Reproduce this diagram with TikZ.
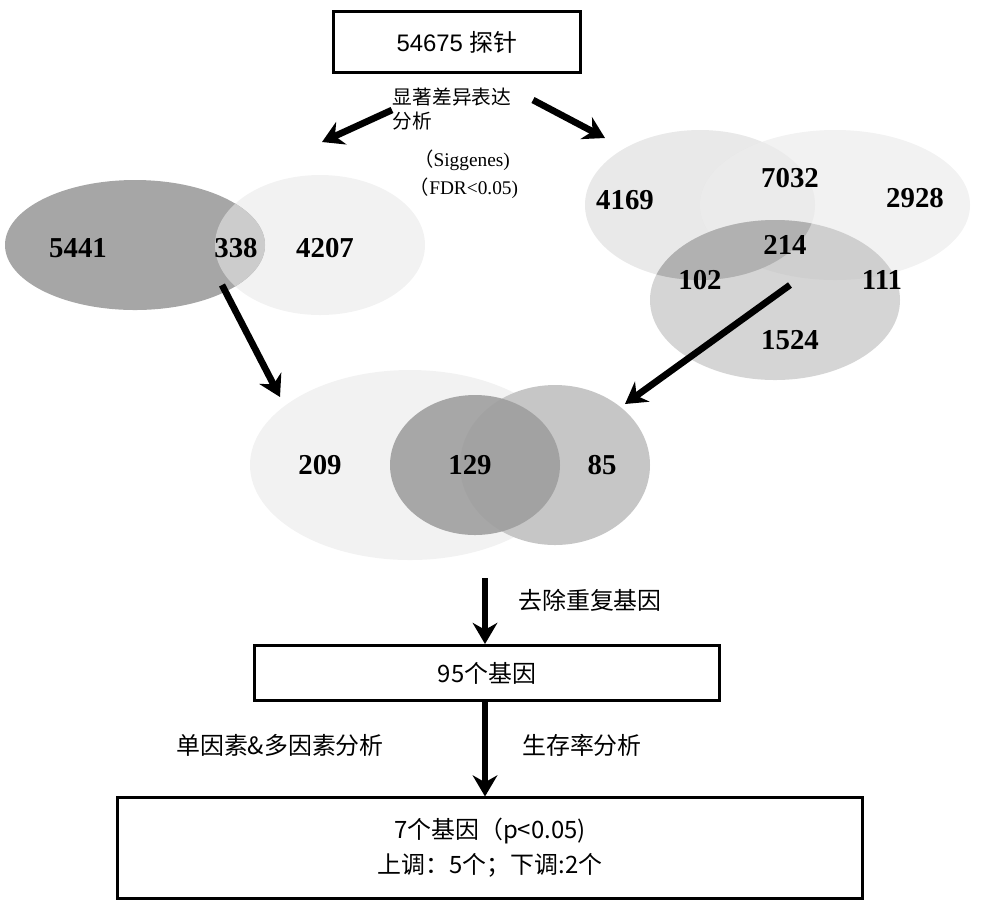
\documentclass[tikz,border=0pt]{standalone}
\usepackage{fontspec}
\setmainfont{Liberation Serif}
\setsansfont{Liberation Sans}
\newfontfamily\cjk{Noto Sans CJK SC}
\usetikzlibrary{arrows.meta}
\begin{document}
\begin{tikzpicture}[x=0.01cm,y=-0.01cm,
 boxn/.style={draw,line width=0.85pt,inner sep=0pt},
 arr/.style={line width=1.9pt,-{Stealth[length=6pt,width=7pt]}},
 num/.style={font=\fontsize{8.2}{8.2}\selectfont\bfseries},
 lab/.style={font=\cjk\fontsize{6.8}{8}\selectfont,align=center}]
\useasboundingbox (0,0) rectangle (1000,908);
% top
\node[boxn,minimum width=2.47cm,minimum height=0.6cm,font=\cjk\fontsize{6.8}{6.8}\selectfont] (top) at (457,42) {\sffamily 54675 \cjk 探针};
\node[font=\cjk\fontsize{5.6}{7}\selectfont,align=left] (sig) at (452,109) {显著差异表达\\分析};
\node[font=\fontsize{5.5}{5.5}\selectfont] (sg) at (462,160) {{\cjk（}Siggenes)};
\node[font=\fontsize{5.5}{5.5}\selectfont] (fdr) at (464,188) {{\cjk（}FDR<0.05)};
\coordinate (la) at (392,110); \coordinate (lb) at (322,142);
\coordinate (ra) at (533,100); \coordinate (rb) at (605,138);
\draw[arr] (la) -- (lb);
\draw[arr] (ra) -- (rb);
% left venn
\fill[gray!10] (320,245) ellipse (105 and 70);
\fill[gray!70] (135,245) ellipse (130 and 65);
\begin{scope}
\clip (135,245) ellipse (130 and 65);
\fill[gray!40] (320,245) ellipse (105 and 70);
\end{scope}
\node[num] (n5441) at (78,248) {5441};
\node[num] (n338) at (236,248) {338};
\node[num] (n4207) at (325,248) {4207};
% right venn
\fill[gray!25,opacity=0.7] (700,205) ellipse (115 and 75);
\fill[gray!15,opacity=0.7] (835,205) ellipse (135 and 75);
\fill[gray!55,opacity=0.6] (775,300) ellipse (125 and 80);
\begin{scope}
\clip (700,205) ellipse (115 and 75);
\fill[gray!70,opacity=0.7] (775,300) ellipse (125 and 80);
\end{scope}
\node[num] (n4169) at (625,200) {4169};
\node[num] (n7032) at (790,178) {7032};
\node[num] (n2928) at (915,198) {2928};
\node[num] (n214) at (785,245) {214};
\node[num] (n102) at (700,280) {102};
\node[num] (n111) at (882,280) {111};
\node[num] (n1524) at (790,340) {1524};
% bottom venn
\fill[gray!10] (410,465) ellipse (160 and 95);
\fill[gray!45] (555,465) ellipse (95 and 80);
\fill[gray!75,opacity=0.9] (475,465) ellipse (85 and 70);
\node[num] (n209) at (320,465) {209};
\node[num] (n129) at (470,465) {129};
\node[num] (n85) at (602,465) {85};
\coordinate (a1) at (222,285); \coordinate (a2) at (280,397);
\coordinate (b1) at (790,285); \coordinate (b2) at (625,404);
\draw[arr] (a1) -- (a2);
\draw[arr] (b1) -- (b2);
% lower flow
\node[boxn,minimum width=4.65cm,minimum height=0.55cm,font=\cjk\fontsize{6.8}{6.8}\selectfont] (g95) at (487,673) {95个基因};
\node[boxn,minimum width=7.44cm,minimum height=1.0cm,align=center,font=\cjk\fontsize{6.8}{10}\selectfont] (g7) at (490,848) {7个基因（p<0.05)\\上调：5个；下调:2个};
\coordinate (c1) at (485,578);
\draw[arr] (c1) -- (g95.north -| c1);
\draw[arr] (g95.south -| c1) -- (g7.north -| c1);
\node[lab] (rm) at (590,600) {去除重复基因};
\node[lab] (uni) at (280,745) {单因素\&多因素分析};
\node[lab] (sur) at (582,745) {生存率分析};
\end{tikzpicture}
\end{document}
